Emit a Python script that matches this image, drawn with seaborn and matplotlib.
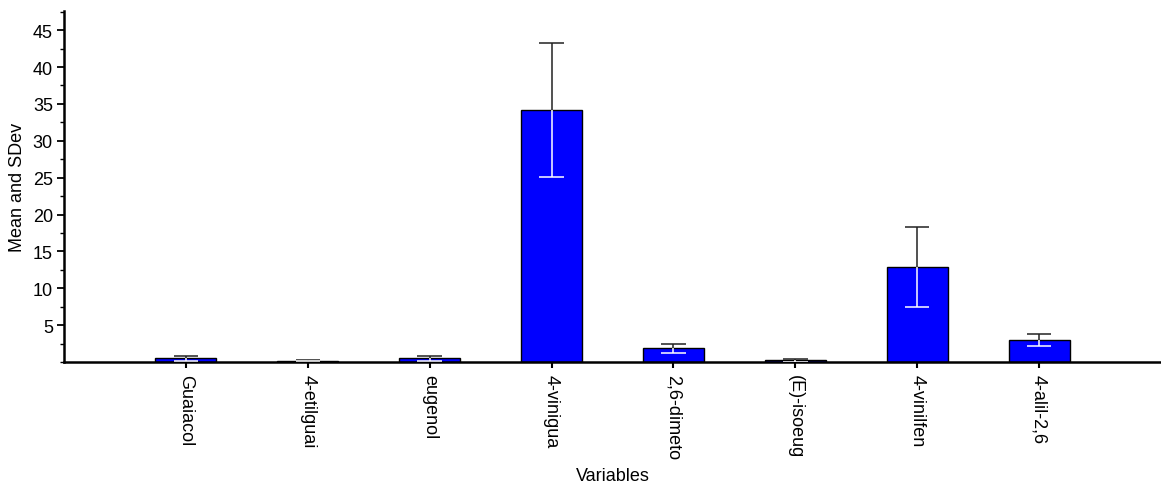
import numpy as np
import pandas as pd
import matplotlib
matplotlib.use("Agg")
import matplotlib.pyplot as plt
from matplotlib.ticker import MultipleLocator
import seaborn as sns

# Phenolic compounds: mean concentration and standard deviation
variables = ["Guaiacol", "4-etilguai", "eugenol", "4-vinigua",
             "2,6-dimeto", "(E)-isoeug", "4-vinilfen", "4-alil-2,6"]
means = [0.48, 0.15, 0.50, 34.2, 1.85, 0.25, 12.9, 2.95]
sdevs = [0.35, 0.08, 0.33, 9.1, 0.60, 0.20, 5.4, 0.80]
y_ticks = [5, 10, 15, 20, 25, 30, 35, 40, 45]

sns.set_theme(style="ticks")
plt.rcParams["font.family"] = ["Liberation Sans", "DejaVu Sans"]

df = pd.DataFrame({"Variables": variables, "mean": means, "sd": sdevs})

fig = plt.figure(figsize=(11.61, 4.85), dpi=100)
ax = fig.add_axes([64 / 1161, 1 - 363 / 485, 1 - 64 / 1161, (363 - 12) / 485])

sns.barplot(data=df, x="Variables", y="mean", color="#0000ff", saturation=1,
            width=0.5, edgecolor="black", linewidth=1.0, ax=ax, zorder=2)

pos = np.arange(len(variables))
m = np.asarray(means)
s = np.asarray(sdevs)
cap = 0.1
# upper half of each error bar in black, lower half (inside the bar) in white
ax.vlines(pos, m, m + s, color="#222222", lw=1.1, zorder=3)
ax.hlines(m + s, pos - cap, pos + cap, color="#222222", lw=1.1, zorder=3)
ax.vlines(pos, m - s, m, color="white", lw=1.1, zorder=3)
ax.hlines(m - s, pos - cap, pos + cap, color="white", lw=1.1, zorder=3)

ax.set_xlim(-1, 8)
ax.set_ylim(0, 47.6)
ax.set_yticks(y_ticks)
ax.yaxis.set_minor_locator(MultipleLocator(2.5))

for side in ("top", "right"):
    ax.spines[side].set_visible(False)
for side in ("left", "bottom"):
    ax.spines[side].set_color("black")
    ax.spines[side].set_linewidth(1.8)

fs = 13
ax.tick_params(axis="y", which="major", direction="out", length=5, width=1.3,
               labelsize=fs, colors="black", pad=3)
ax.tick_params(axis="y", which="minor", direction="out", length=3, width=1.0,
               colors="black")
ax.tick_params(axis="x", direction="out", length=4, width=1.5,
               labelsize=fs, colors="black", pad=5)
plt.setp(ax.get_xticklabels(), rotation=270, ha="center", va="top")

ax.set_xlabel("Variables", fontsize=fs, color="black", va="center")
ax.xaxis.set_label_coords(0.5, (363 - 477) / 351)
ax.set_ylabel("Mean and SDev", fontsize=fs, color="black", va="center")
ax.yaxis.set_label_coords((18 - 64) / 1097, 0.5)

fig.savefig("out.png", dpi=100)
